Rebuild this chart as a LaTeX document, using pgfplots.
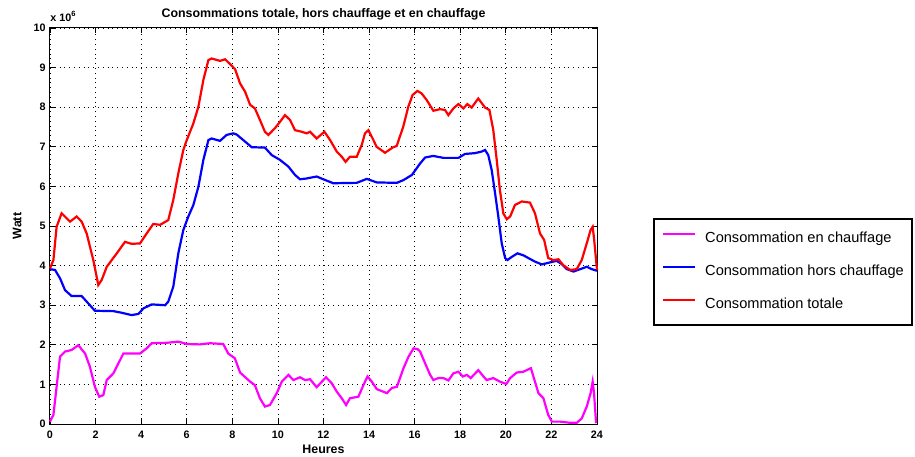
\documentclass[border=0pt]{standalone}
\usepackage{fontspec}
\setmainfont{Liberation Sans}
\usepackage{pgfplots}
\pgfplotsset{compat=1.18}

\definecolor{cmag}{RGB}{255,0,255}
\definecolor{cblue}{RGB}{0,0,255}
\definecolor{cred}{RGB}{255,0,0}

\begin{document}
\begin{tikzpicture}
\useasboundingbox (0,0) rectangle (457.5pt,228pt);
\begin{axis}[
    at={(25pt,16pt)}, anchor=south west,
    scale only axis,
    width=273.5pt, height=198pt,
    xmin=0, xmax=24, ymin=0, ymax=10,
    xtick={0,2,...,24}, ytick={0,1,...,10},
    tick align=inside,
    major tick length=2.5pt,
    axis line style={black, line width=0.5pt},
    tick style={black, line width=0.4pt},
    grid=major,
    major grid style={black, dotted, line width=0.4pt},
    clip=false,
    /pgf/number format/assume math mode=true,
    ticklabel style={font=\fontsize{5.4}{6}\selectfont\bfseries},
    xticklabel style={inner sep=0pt, yshift=-3.3pt},
    yticklabel style={inner sep=0pt, xshift=-2pt},
    xlabel={Heures},
    ylabel={Watt},
    every axis x label/.style={at={(axis description cs:0.5,-0.063)}, anchor=center, font=\fontsize{6.2}{7}\selectfont\bfseries},
    every axis y label/.style={at={(axis description cs:-0.06,0.5)}, rotate=90, anchor=center, font=\fontsize{6.2}{7}\selectfont\bfseries},
    legend style={
        at={(1.1024,0.52)}, anchor=north west,
        draw=black, line width=1pt,
        font=\fontsize{7.3}{8.5}\selectfont,
        inner xsep=4pt, inner ysep=6.5pt,
        row sep=9.5pt,
        nodes={inner sep=0pt, text height=5.4pt, text depth=1.6pt},
        /tikz/every odd column/.append style={column sep=4.5pt},
    },
    legend cell align=left,
    legend image code/.code={\draw[#1, line width=1.1pt] (-1.5pt,2.4pt) -- (14.5pt,2.4pt);},
]
\addplot[cmag, line width=1.1pt] coordinates {
(0,0.06) (0.15,0.23) (0.29,0.94) (0.44,1.70) (0.66,1.83) (0.95,1.87) (1.24,1.99)
(1.54,1.78) (1.75,1.45) (1.97,0.94) (2.16,0.69) (2.34,0.73) (2.49,1.11) (2.78,1.28)
(3.0,1.53) (3.22,1.78) (3.95,1.78) (4.24,1.91) (4.46,2.04) (5.12,2.05) (5.63,2.08)
(6.0,2.02) (6.58,2.01) (7.02,2.04) (7.6,2.02) (7.82,1.78) (8.11,1.66) (8.34,1.30)
(8.78,1.07) (8.99,0.98) (9.21,0.65) (9.43,0.44) (9.65,0.48) (9.95,0.78) (10.17,1.07)
(10.46,1.24) (10.68,1.11) (10.97,1.18) (11.19,1.11) (11.41,1.13) (11.70,0.93) (12.11,1.18)
(12.36,1.03) (12.58,0.82) (12.80,0.65) (12.99,0.48) (13.16,0.65) (13.53,0.69) (13.75,0.98)
(13.93,1.20) (14.12,1.07) (14.34,0.88) (14.78,0.78) (15.0,0.91) (15.22,0.94) (15.51,1.41)
(15.73,1.70) (15.95,1.91) (16.13,1.89) (16.24,1.83) (16.46,1.53) (16.68,1.24) (16.82,1.11)
(17.04,1.16) (17.26,1.16) (17.48,1.10) (17.70,1.28) (17.92,1.32) (18.11,1.20) (18.29,1.24)
(18.46,1.16) (18.79,1.36) (19.02,1.20) (19.16,1.11) (19.45,1.16) (19.74,1.07) (20.02,1.01)
(20.19,1.16) (20.48,1.30) (20.77,1.32) (21.10,1.41) (21.21,1.20) (21.43,0.78) (21.65,0.65)
(21.86,0.23) (22.02,0.06) (22.39,0.06) (22.82,0.03) (23.11,0.03) (23.33,0.14) (23.55,0.44)
(23.72,0.78) (23.81,1.07) (23.87,0.78) (23.96,0.02)
};
\addlegendentry{Consommation en chauffage}
\addplot[cblue, line width=1.1pt] coordinates {
(0,3.91) (0.22,3.89) (0.44,3.68) (0.66,3.38) (0.95,3.23) (1.39,3.23) (1.61,3.09)
(1.97,2.86) (2.78,2.85) (3.14,2.81) (3.58,2.75) (3.88,2.78) (4.10,2.92) (4.46,3.02)
(5.05,3.0) (5.19,3.09) (5.41,3.47) (5.63,4.31) (5.85,4.90) (6.07,5.24) (6.29,5.53)
(6.51,5.99) (6.73,6.67) (6.95,7.17) (7.09,7.21) (7.46,7.15) (7.75,7.30) (8.04,7.34)
(8.19,7.31) (8.48,7.17) (8.85,6.99) (9.43,6.98) (9.73,6.79) (10.09,6.67) (10.46,6.50)
(10.75,6.29) (10.97,6.18) (11.26,6.20) (11.70,6.25) (11.99,6.18) (12.43,6.08) (13.46,6.09)
(13.90,6.19) (14.34,6.10) (15.22,6.09) (15.51,6.16) (15.88,6.29) (16.24,6.58) (16.46,6.73)
(16.82,6.77) (17.26,6.72) (17.92,6.72) (18.21,6.82) (18.65,6.84) (18.94,6.88) (19.09,6.92)
(19.23,6.79) (19.38,6.41) (19.53,5.82) (19.67,5.24) (19.82,4.56) (19.97,4.19) (20.07,4.14)
(20.26,4.22) (20.51,4.31) (20.77,4.26) (20.99,4.19) (21.28,4.10) (21.58,4.03) (21.86,4.07)
(22.23,4.12) (22.45,4.04) (22.68,3.91) (22.97,3.85) (23.26,3.91) (23.55,3.97) (23.77,3.91)
(24,3.87)
};
\addlegendentry{Consommation hors chauffage}
\addplot[cred, line width=1.1pt] coordinates {
(0,3.93) (0.15,4.14) (0.29,4.98) (0.51,5.32) (0.88,5.11) (1.17,5.24) (1.39,5.11)
(1.61,4.81) (1.90,4.14) (2.12,3.51) (2.27,3.64) (2.49,3.97) (2.93,4.31) (3.29,4.60)
(3.58,4.55) (3.95,4.56) (4.24,4.81) (4.53,5.05) (4.83,5.03) (5.19,5.15) (5.41,5.66)
(5.63,6.33) (5.85,6.92) (6.0,7.17) (6.29,7.59) (6.51,8.01) (6.73,8.69) (6.95,9.19)
(7.09,9.23) (7.46,9.17) (7.68,9.21) (7.9,9.09) (8.12,8.96) (8.34,8.60) (8.56,8.39)
(8.78,8.06) (8.99,7.97) (9.21,7.68) (9.43,7.38) (9.58,7.30) (9.87,7.47) (10.09,7.63)
(10.31,7.80) (10.53,7.68) (10.75,7.42) (11.04,7.38) (11.26,7.34) (11.41,7.38) (11.70,7.21)
(12.04,7.38) (12.29,7.17) (12.58,6.88) (12.80,6.75) (12.97,6.62) (13.16,6.75) (13.46,6.75)
(13.68,7.05) (13.82,7.34) (13.97,7.42) (14.19,7.17) (14.33,7.00) (14.70,6.85) (15.06,6.99)
(15.21,7.02) (15.50,7.51) (15.72,8.01) (15.91,8.31) (16.12,8.41) (16.30,8.35) (16.53,8.18)
(16.82,7.91) (17.11,7.95) (17.33,7.93) (17.48,7.80) (17.70,7.97) (17.92,8.08) (18.14,7.97)
(18.31,8.08) (18.50,7.99) (18.79,8.22) (19.09,7.99) (19.28,7.93) (19.45,7.42) (19.60,6.67)
(19.74,5.91) (19.89,5.32) (20.04,5.17) (20.19,5.24) (20.40,5.53) (20.70,5.62) (21.06,5.59)
(21.28,5.32) (21.50,4.81) (21.68,4.65) (21.86,4.19) (22.09,4.14) (22.31,4.16) (22.52,4.01)
(22.82,3.89) (23.11,3.91) (23.33,4.14) (23.55,4.56) (23.72,4.90) (23.81,4.98) (23.87,4.69)
(24,3.89)
};
\addlegendentry{Consommation totale}
\node[anchor=base west, inner sep=0pt, font=\fontsize{5.4}{6}\selectfont\bfseries]
    at ([yshift=3.5pt]rel axis cs:0,1) {x 10\textsuperscript{6}};
\node[anchor=center, inner sep=0pt, font=\fontsize{6.2}{7}\selectfont\bfseries]
    at ([yshift=7pt]rel axis cs:0.5,1) {Consommations totale, hors chauffage et en chauffage};
\end{axis}
\end{tikzpicture}
\end{document}
